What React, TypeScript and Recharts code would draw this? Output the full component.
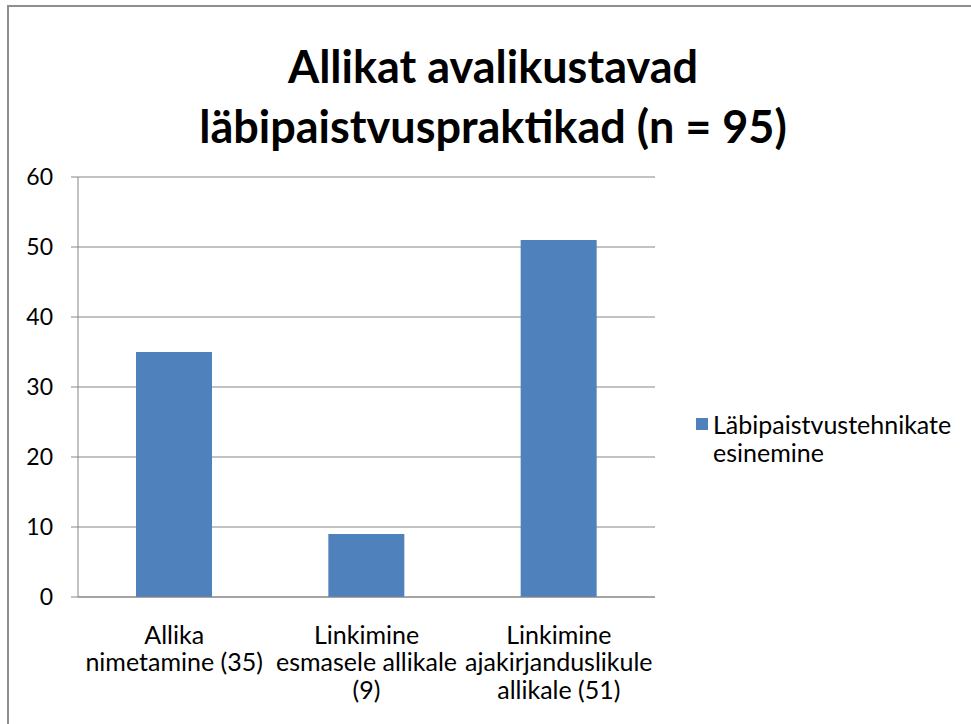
import { BarChart, Bar, XAxis, YAxis, CartesianGrid, Legend } from "recharts";

const CATEGORIES = ["Allika nimetamine (35)", "Linkimine esmasele allikale (9)", "Linkimine ajakirjanduslikule allikale (51)"];
const CATEGORY_LINES = [
  ["Allika", "nimetamine (35)"],
  ["Linkimine", "esmasele allikale", "(9)"],
  ["Linkimine", "ajakirjanduslikule", "allikale (51)"],
];
const VALUES = [35, 9, 51];
const Y_TICKS = [0, 10, 20, 30, 40, 50, 60];
const BOUNDARY_TICKS = [0, 1, 2, 3];
const SERIES_NAME = "Läbipaistvustehnikate esinemine";
const TITLE = ["Allikat avalikustavad", "läbipaistvuspraktikad (n = 95)"];

const data = CATEGORIES.map((c, i) => ({ name: c, idx: i, value: VALUES[i] }));

const FONT = "Lato, 'Open Sans', sans-serif";
const AXIS = "#868686";
const BLUE = "#4F81BD";

function CatTick({ x, y, payload }: any) {
  const lines = CATEGORY_LINES[payload.index] || [payload.value];
  return (
    <text x={x} y={y} textAnchor="middle" fontSize={25} fill="#000" fontFamily={FONT}>
      {lines.map((l, i) => (
        <tspan key={i} x={x} y={y + 38.5 + i * 27.5}>{l}</tspan>
      ))}
    </text>
  );
}

function LegendBox() {
  return (
    <div style={{ display: "flex", alignItems: "flex-start", width: 270, fontFamily: FONT, fontSize: 25, color: "#000", lineHeight: "28px" }}>
      <span style={{ width: 12, height: 12, background: BLUE, flexShrink: 0, marginTop: 8, marginRight: 5 }} />
      <span style={{ width: 250 }}>{SERIES_NAME}</span>
    </div>
  );
}

export default function App() {
  return (
    <div style={{ position: "absolute", left: 0, top: 0, width: 971, height: 724, overflow: "hidden", background: "#fff" }}>
      <div style={{ position: "absolute", left: 7, top: 5, width: 1000, height: 800, borderLeft: "2px solid #8e8e8e", borderTop: "2px solid #8e8e8e" }} />
      <div style={{ position: "absolute", left: 93, top: 36, width: 800, textAlign: "center", fontFamily: FONT, fontWeight: 700, fontSize: 45, lineHeight: "60px", color: "#000" }}>
        {TITLE.map((t, i) => <div key={i}>{t}</div>)}
      </div>
      <div style={{ position: "absolute", left: 0, top: 0 }}>
        <BarChart width={971} height={724} data={data} margin={{ top: 177, right: 46, bottom: 0, left: 0 }}>
          <CartesianGrid horizontal vertical={false} stroke={AXIS} strokeWidth={1} />
          <XAxis xAxisId="b" type="number" dataKey="idx" domain={[0, 3]} ticks={BOUNDARY_TICKS} height={0}
            axisLine={false} tickLine={{ stroke: AXIS }} tickSize={7} tickFormatter={() => ""} allowDataOverflow />
          <XAxis dataKey="name" height={127} axisLine={{ stroke: AXIS }} tickLine={false} tick={<CatTick />} interval={0} />
          <YAxis domain={[0, 60]} ticks={Y_TICKS} width={78} axisLine={{ stroke: AXIS }} tickLine={{ stroke: AXIS }}
            tickSize={7} tickMargin={18} tick={{ fontSize: 23, fill: "#000", fontFamily: FONT }} />
          <Legend layout="vertical" align="right" verticalAlign="middle" content={<LegendBox />}
            wrapperStyle={{ left: 696, top: 410, width: 270 }} />
          <Bar dataKey="value" name={SERIES_NAME} fill={BLUE} barSize={76} isAnimationActive={false} />
        </BarChart>
      </div>
    </div>
  );
}
